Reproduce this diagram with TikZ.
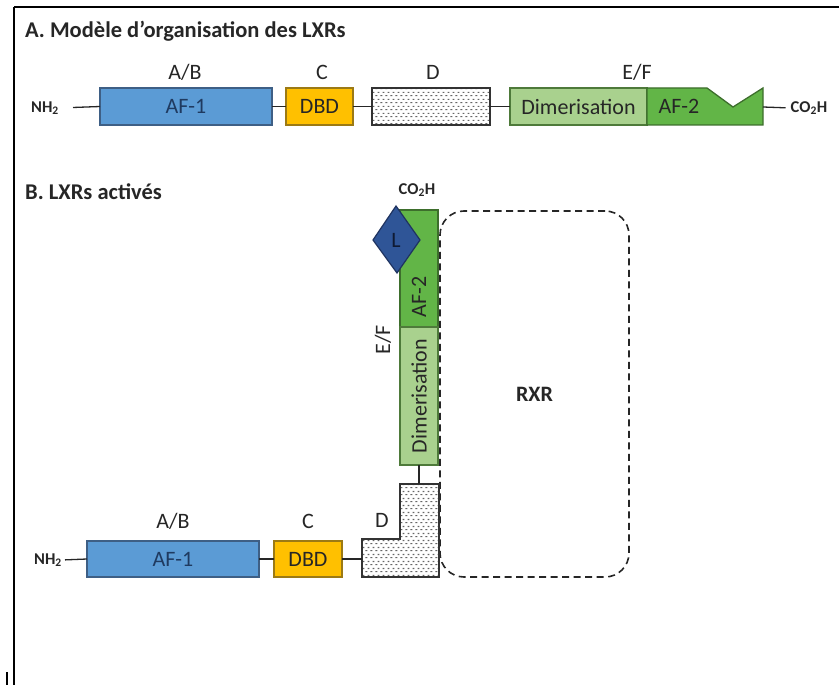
\documentclass[tikz,border=0pt]{standalone}
\usepackage{fontspec}
\setmainfont{Carlito}
\usetikzlibrary{patterns}
\definecolor{txt}{HTML}{262626}
\definecolor{af1}{HTML}{5B9BD5}
\definecolor{af1d}{HTML}{3E5F85}
\definecolor{af1t}{HTML}{1F3A60}
\definecolor{dbd}{HTML}{FFC000}
\definecolor{dbdd}{HTML}{9C7A14}
\definecolor{dim}{HTML}{A9D18E}
\definecolor{dimd}{HTML}{4E7A3A}
\definecolor{af2}{HTML}{62B547}
\definecolor{af2d}{HTML}{3D6E2C}
\definecolor{lig}{HTML}{2F5597}
\definecolor{ligd}{HTML}{1F3360}
\definecolor{ligt}{HTML}{0F1A33}
\pgfdeclarepatternformonly{stipple}{\pgfpointorigin}{\pgfpoint{5pt}{7pt}}{\pgfpoint{5pt}{7pt}}{%
  \pgfpathrectangle{\pgfpoint{0.5pt}{1pt}}{\pgfpoint{2.2pt}{1.2pt}}%
  \pgfpathrectangle{\pgfpoint{3pt}{4.5pt}}{\pgfpoint{2.2pt}{1.2pt}}%
  \pgfusepath{fill}}
\begin{document}
\begin{tikzpicture}[x=1pt,y=-1pt,
  lab/.style={font=\fontsize{22}{25}\selectfont, text=txt, inner sep=0pt},
  ttl/.style={font=\fontsize{22.5}{26}\selectfont\bfseries, text=txt, inner sep=0pt, anchor=base west},
  chem/.style={font=\fontsize{16.5}{18}\selectfont\bfseries, text=txt, inner sep=0pt},
  box/.style={draw, line width=1.3pt, inner sep=0pt, outer sep=0pt, font=\fontsize{22}{25}\selectfont, text=txt},
  link/.style={draw=black!85, line width=1.3pt},
  dom/.style={draw=black!80, line width=1.1pt, pattern=stipple, pattern color=black!60}
]
\useasboundingbox (0,0) rectangle (839,685);
% frame
\draw[line width=2.5pt] (14,7) -- (839,7);
\draw[line width=2pt] (14,7) -- (14,685);
\draw[line width=1.5pt] (7,672) -- (7,685);

% ---------- Part A ----------
\node[ttl] (tA) at (25,38) {A. Modèle d’organisation des LXRs};
\node[chem] (nh2A) at (45,108) {NH\textsubscript{2}};
\node[box, fill=af1, draw=af1d, minimum width=172pt, minimum height=37pt, text=af1t] (af1A) at (186,106.5) {AF-1};
\node[box, fill=dbd, draw=dbdd, minimum width=67pt, minimum height=37pt] (dbdA) at (319.5,106.5) {DBD};
\node[box, dom, minimum width=118pt, minimum height=37pt] (dA) at (431,106.5) {};
\node[box, fill=dim, draw=dimd, minimum width=137pt, minimum height=37pt] (dimA) at (578.5,106.5) {Dimerisation};
\draw[line width=1.3pt, fill=af2, draw=af2d] (dimA.north east) -- (707,88) -- (733,107) -- (763,88) |- (dimA.south east) -- cycle;
\node[lab] (af2A) at (679,106.5) {AF-2};
\coordinate (af2Ae) at (763,107);
\node[chem] (co2hA) at (809,108) {CO\textsubscript{2}H};

\draw[link, shorten <=14pt] (nh2A.east) -- (af1A.west);
\draw[link] (af1A) -- (dbdA);
\draw[link] (dbdA) -- (dA);
\draw[link] (dA) -- (dimA);
\draw[link, shorten >=5pt] (af2Ae) -- (co2hA.west);

\node[lab] (abA) at (185,72) {A/B};
\node[lab] (cA) at (322,72) {C};
\node[lab] (dAl) at (433,72) {D};
\node[lab] (efA) at (637,72) {E/F};

% ---------- Part B ----------
\node[ttl] (tB) at (25,199) {B. LXRs activés};
\node[chem] (co2hB) at (417,190) {CO\textsubscript{2}H};

\node[draw=black!85, line width=1.6pt, dash pattern=on 7pt off 4.5pt, rounded corners=24pt,
      minimum width=189pt, minimum height=366pt, inner sep=0pt,
      font=\fontsize{22}{25}\selectfont\bfseries, text=txt] (rxr) at (534.5,394) {RXR};

\node[box, fill=af2, draw=af2d, minimum width=38pt, minimum height=117pt] (af2B) at (419,268.5) {};
\node[lab, rotate=90] (af2Bt) at (419,297) {AF-2};
\node[box, fill=dim, draw=dimd, minimum width=38pt, minimum height=138pt] (dimB) at (419,396) {};
\node[lab, rotate=90] (dimBt) at (dimB) {Dimerisation};
\node[lab, rotate=90] (efB) at (383,340) {E/F};

\draw[fill=lig, draw=ligd, line width=1.2pt] (396,206) -- (420,240) -- (397,273) -- (373,240) -- cycle;
\node[lab, text=ligt] (lig) at (396,240) {L};

\draw[dom] (362,539) -- (400,539) -- (400,484) -- (439,484) -- (439,577) -- (362,577) -- cycle;
\coordinate (dBtop) at (419,484);
\coordinate (dBleft) at (362,559);
\draw[link] (dimB.south) -- (dBtop);

\node[chem] (nh2B) at (48,560) {NH\textsubscript{2}};
\node[box, fill=af1, draw=af1d, minimum width=172pt, minimum height=36pt, text=af1t] (af1B) at (173,559) {AF-1};
\node[box, fill=dbd, draw=dbdd, minimum width=68pt, minimum height=36pt] (dbdB) at (308,559) {DBD};
\draw[link, shorten <=3pt] (nh2B.east) -- (af1B.west);
\draw[link] (af1B) -- (dbdB);
\draw[link] (dbdB) -- (dBleft);

\node[lab] (abB) at (173,521) {A/B};
\node[lab] (cB) at (308,521) {C};
\node[lab] (dBl) at (382,520) {D};
\end{tikzpicture}
\end{document}
